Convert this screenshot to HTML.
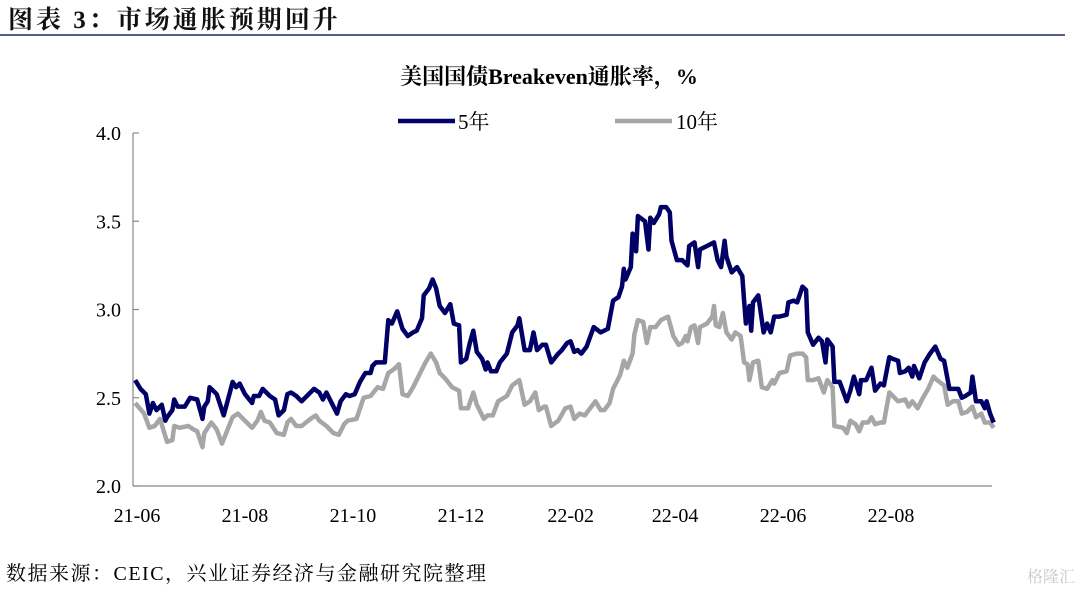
<!DOCTYPE html>
<html><head><meta charset="utf-8">
<style>
body{margin:0;background:#fff;width:1080px;height:591px;overflow:hidden;font-family:"Liberation Serif","Noto Serif CJK SC",serif;}
svg text{font-family:"Liberation Serif","Noto Serif CJK SC",serif;}
</style></head>
<body>
<svg id="chart" width="1080" height="591" viewBox="0 0 1080 591">
  <text x="8" y="28" font-size="25" font-weight="bold" letter-spacing="3" fill="#111">图表 3：市场通胀预期回升</text>
  <line x1="0" y1="35" x2="1065" y2="35" stroke="#1a2a5a" stroke-width="1.5"/>
  <text x="549" y="84" font-size="22" font-weight="bold" text-anchor="middle" fill="#000">美国国债Breakeven通胀率，%</text>
  <g>
    <line x1="398" y1="121" x2="455" y2="121" stroke="#000066" stroke-width="4.5"/>
    <text x="458" y="129" font-size="21" fill="#000">5年</text>
    <line x1="615" y1="121" x2="672" y2="121" stroke="#a6a6a6" stroke-width="4.5"/>
    <text x="676" y="129" font-size="21" fill="#000">10年</text>
  </g>
  <g id="axes"></g>
  <g id="series"></g>
  <text x="6" y="580" font-size="20" letter-spacing="1.5" fill="#000">数据来源：CEIC，兴业证券经济与金融研究院整理</text>
  <text x="1075" y="582" font-size="16" fill="#c8c8c8" text-anchor="end">格隆汇</text>
</svg>
<script>
const yTicks=[2.0,2.5,3.0,3.5,4.0];
const yTickLabels=["2.0","2.5","3.0","3.5","4.0"];
const xTickDays=[0,61,122,183,245,304,365,426];
const xTickLabels=["21-06","21-08","21-10","21-12","22-02","22-04","22-06","22-08"];
const days5=[-1,2,5,7,9,11,14,16,17,20,21,23,27,30,34,37,38,40,41,45,49,53,54,56,58,61,65,66,69,71,75,78,80,83,85,87,90,93,96,100,103,105,107,109,113,115,118,120,123,126,129,132,133,135,140,142,144,147,150,153,156,158,161,162,165,167,169,171,174,177,179,182,183,186,188,190,192,195,197,198,200,203,205,209,212,215,216,219,222,224,226,229,231,234,238,240,243,245,247,249,251,254,258,262,266,269,272,274,275,276,279,280,282,283,287,289,290,292,295,296,299,301,302,305,308,311,312,315,317,318,322,326,328,330,332,333,336,339,342,343,344,346,347,348,351,354,356,358,360,363,367,368,371,373,376,378,379,382,385,387,389,390,393,394,397,401,403,405,408,409,412,415,417,420,422,425,427,430,431,434,436,438,439,442,445,448,451,454,456,459,461,464,466,468,471,472,474,477,479,480,482,484];
const vals5=[2.60,2.55,2.52,2.41,2.47,2.43,2.46,2.37,2.39,2.43,2.49,2.45,2.45,2.50,2.49,2.38,2.45,2.48,2.56,2.52,2.40,2.55,2.59,2.56,2.58,2.52,2.47,2.51,2.51,2.55,2.51,2.49,2.40,2.43,2.52,2.53,2.51,2.48,2.51,2.55,2.53,2.49,2.53,2.49,2.41,2.48,2.52,2.51,2.52,2.59,2.64,2.64,2.68,2.70,2.70,2.94,2.92,2.99,2.89,2.85,2.87,2.88,2.95,3.08,3.12,3.17,3.12,3.02,2.98,3.03,2.92,2.91,2.70,2.72,2.81,2.88,2.76,2.72,2.66,2.70,2.65,2.65,2.70,2.75,2.87,2.91,2.95,2.77,2.77,2.87,2.77,2.80,2.80,2.70,2.75,2.77,2.81,2.82,2.76,2.77,2.75,2.79,2.90,2.87,2.89,3.05,3.07,3.13,3.23,3.17,3.24,3.43,3.33,3.53,3.50,3.34,3.52,3.49,3.54,3.58,3.58,3.55,3.39,3.28,3.28,3.25,3.36,3.38,3.24,3.34,3.36,3.38,3.28,3.24,3.39,3.30,3.21,3.24,3.19,3.05,2.92,3.02,2.88,3.04,3.08,2.87,2.92,2.87,2.96,2.96,2.97,3.04,3.05,3.04,3.13,3.11,2.87,2.80,2.84,2.82,2.70,2.83,2.79,2.59,2.59,2.48,2.54,2.62,2.52,2.60,2.60,2.67,2.54,2.58,2.57,2.73,2.72,2.71,2.64,2.65,2.67,2.62,2.68,2.61,2.70,2.75,2.79,2.72,2.71,2.55,2.55,2.55,2.50,2.51,2.53,2.62,2.48,2.48,2.44,2.48,2.41,2.36];
const days10=[-1,4,7,10,13,17,20,21,24,29,32,34,37,38,42,45,48,52,54,57,59,61,65,68,70,72,75,79,83,85,87,90,93,98,101,103,107,111,114,117,119,124,128,132,136,139,142,145,148,150,153,156,160,163,166,169,171,174,178,182,183,187,190,192,196,198,201,204,209,212,216,219,222,225,227,230,231,234,238,242,245,247,250,253,256,259,262,264,267,269,273,275,277,280,281,283,286,288,290,293,296,298,300,303,306,308,310,311,313,315,317,318,322,325,326,327,329,331,333,336,338,341,343,345,346,348,351,353,356,359,360,363,367,369,373,376,378,379,382,385,388,390,393,394,399,401,403,406,408,410,413,415,417,420,422,425,427,430,434,436,438,441,444,447,450,452,456,458,461,464,466,469,472,474,477,479,482,484];
const vals10=[2.47,2.41,2.33,2.34,2.38,2.25,2.26,2.34,2.33,2.34,2.32,2.31,2.22,2.30,2.36,2.32,2.24,2.34,2.39,2.41,2.39,2.37,2.33,2.37,2.42,2.37,2.36,2.30,2.29,2.36,2.38,2.34,2.34,2.38,2.40,2.37,2.34,2.30,2.29,2.35,2.37,2.38,2.50,2.51,2.56,2.55,2.64,2.66,2.69,2.52,2.51,2.56,2.64,2.70,2.75,2.70,2.64,2.61,2.56,2.54,2.44,2.44,2.53,2.46,2.38,2.40,2.40,2.48,2.51,2.57,2.60,2.46,2.48,2.53,2.43,2.45,2.45,2.34,2.37,2.44,2.45,2.38,2.41,2.40,2.44,2.48,2.43,2.43,2.47,2.55,2.63,2.71,2.67,2.75,2.86,2.94,2.93,2.81,2.90,2.90,2.94,2.95,2.96,2.85,2.80,2.81,2.85,2.82,2.90,2.91,2.81,2.90,2.92,2.96,3.02,2.91,2.90,2.98,2.87,2.83,2.87,2.85,2.70,2.69,2.60,2.70,2.71,2.56,2.55,2.60,2.58,2.64,2.65,2.74,2.75,2.75,2.73,2.60,2.60,2.61,2.53,2.60,2.56,2.34,2.33,2.30,2.37,2.35,2.31,2.36,2.36,2.39,2.35,2.36,2.36,2.53,2.51,2.48,2.49,2.45,2.48,2.44,2.50,2.55,2.62,2.60,2.57,2.46,2.48,2.48,2.41,2.42,2.45,2.39,2.41,2.36,2.36,2.33];

const NS="http://www.w3.org/2000/svg";
const X0=137, PXD=1.77, Y0=486, Y1=133, VMIN=2.0, VMAX=4.0;
function xs(d){return X0+d*PXD;}
function ys(v){return Y0-(v-VMIN)/(VMAX-VMIN)*(Y0-Y1);}
function mk(tag,attrs,parent){const e=document.createElementNS(NS,tag);for(const k in attrs)e.setAttribute(k,attrs[k]);parent.appendChild(e);return e;}
const axes=document.getElementById('axes');
const yAxis=mk('line',{x1:133,y1:Y1,x2:133,y2:Y0,stroke:'#888','stroke-width':1.2},axes);


const xAxis=mk('line',{x1:133,y1:Y0,x2:992,y2:Y0,stroke:'#888','stroke-width':1.2},axes);


yTicks.forEach((v,i)=>{
  const t=mk('line',{x1:133,y1:ys(v),x2:139,y2:ys(v),stroke:'#888','stroke-width':1.2},axes);
  
  
  const l=mk('text',{x:121,y:ys(v)+7,'font-size':20,'text-anchor':'end',fill:'#000'},axes);
  l.textContent=yTickLabels[i];
  
  
});
xTickDays.forEach((d,i)=>{
  const l=mk('text',{x:xs(d),y:522,'font-size':20,'text-anchor':'middle',fill:'#000'},axes);
  l.textContent=xTickLabels[i];
  
  
});
const ser=document.getElementById('series');
function draw(days,vals,color,name){
  const pts=days.map((d,i)=>xs(d).toFixed(1)+','+ys(vals[i]).toFixed(1)).join(' ');
  const p=mk('polyline',{points:pts,fill:'none',stroke:color,'stroke-width':4.5,'stroke-linejoin':'round'},ser);
  
  
}
draw(days10,vals10,'#a6a6a6','line-10y');
draw(days5,vals5,'#000066','line-5y');
</script>
</body></html>
